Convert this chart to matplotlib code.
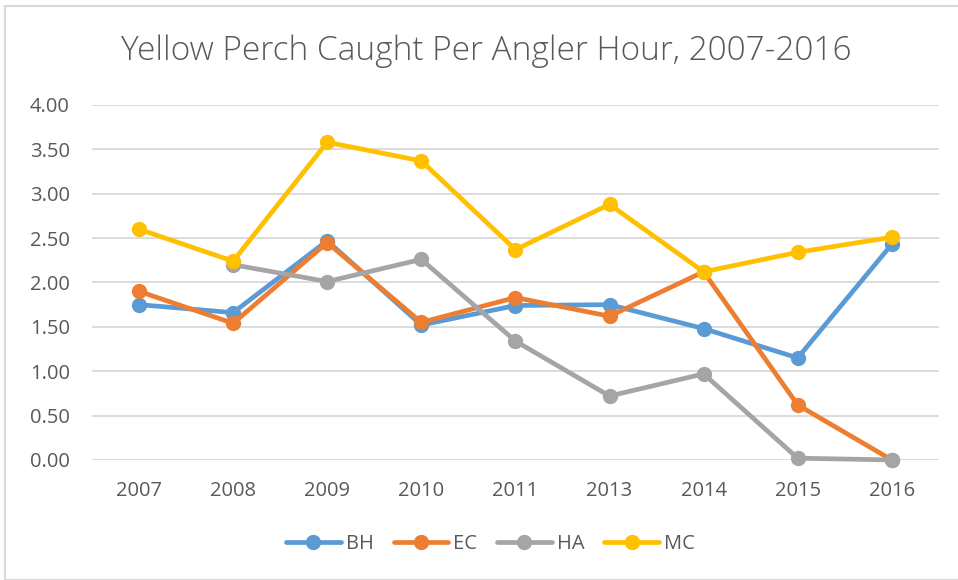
import matplotlib.pyplot as plt
from matplotlib.patches import Rectangle
import numpy as np

years = ['2007', '2008', '2009', '2010', '2011', '2013', '2014', '2015', '2016']
bh = [1.75, 1.66, 2.47, 1.52, 1.74, 1.75, 1.48, 1.15, 2.43]
ec = [1.90, 1.54, 2.45, 1.55, 1.83, 1.62, 2.12, 0.62, 0.00]
ha = [np.nan, 2.20, 2.01, 2.26, 1.34, 0.72, 0.97, 0.02, 0.00]
mc = [2.60, 2.24, 3.58, 3.37, 2.37, 2.88, 2.12, 2.34, 2.51]

series = [('BH', bh, '#5b9bd5'), ('EC', ec, '#ed7d31'),
          ('HA', ha, '#a5a5a5'), ('MC', mc, '#ffc000')]

plt.rcParams['font.family'] = ['Open Sans', 'DejaVu Sans']

fig = plt.figure(figsize=(9.58, 5.8), dpi=100)
ax = fig.add_axes([0.096, 0.207, 0.884, 0.612])

# light border round the chart area, like the excel export
fig.patches.append(Rectangle((5 / 958, 0.0), 1.0, 1 - 6 / 580, transform=fig.transFigure,
                             fill=False, edgecolor='#d9d9d9', linewidth=1.5))

x = np.arange(len(years))
for name, vals, col in series:
    ax.plot(x, vals, color=col, linewidth=3.4, marker='o', markersize=10,
            label=name, solid_capstyle='round', clip_on=False)

ax.set_xlim(-0.5, len(years) - 0.5)
ax.set_ylim(0, 4.0)
ax.set_yticks(np.arange(0, 4.01, 0.5))
ax.set_yticklabels(['%.2f' % v for v in np.arange(0, 4.01, 0.5)])
ax.set_xticks(x)
ax.set_xticklabels(years)
ax.grid(axis='y', color='#d9d9d9', linewidth=1.3)
ax.set_axisbelow(True)
for s in ax.spines.values():
    s.set_visible(False)
ax.tick_params(length=0, labelsize=14.5, colors='#595959')
ax.tick_params(axis='y', pad=16)
ax.tick_params(axis='x', pad=15)

fig.text(0.508, 0.912, 'Yellow Perch Caught Per Angler Hour, 2007-2016', ha='center', va='center',
         fontsize=24, color='#595959', fontweight='light')

fig.legend(loc='center', bbox_to_anchor=(0.512, 0.062), ncol=4, frameon=False,
           fontsize=14.5, labelcolor='#595959', handlelength=2.7, handletextpad=0.25,
           columnspacing=1.0)

fig.savefig('out.png', dpi=100)
